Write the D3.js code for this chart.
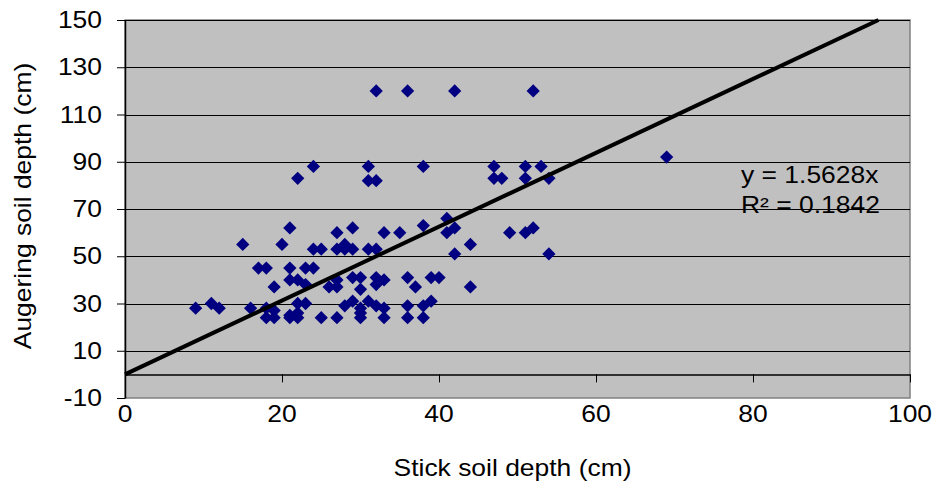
<!DOCTYPE html>
<html><head><meta charset="utf-8">
<script src="https://cdn.jsdelivr.net/npm/d3@7"></script>
<style>body{margin:0;background:#fff;}svg text{font-family:"Liberation Sans",Arial,sans-serif;fill:#000;}</style>
</head><body><svg id="c" width="933" height="483"></svg>
<script>
const stickDepth = [32,36,42,52, 22,24,31,31,32,38,47,47,48,51,51,53,54,69,
 21,27,29,33,35,38,41,41,42,49,51,52,
 15,20,24,25,27,28,28,29,31,32,44,42,54,
 17,18,21,23,24,21,22,23,19,26,27,27,29,30,30,32,32,33,36,37,39,40,44,
 9,11,12,16,18,19,18,19,21,21,22,23,22,22,25,27,28,29,31,32,33,30,30,30,33,36,36,38,39,38];
const augerDepth = [120,120,120,120, 83,88,88,82,82,88,88,83,83,88,83,88,83,92,
 62,60,62,60,60,63,66,60,62,60,60,62,
 55,55,53,53,53,55,53,53,53,53,55,51,51,
 45,45,45,45,45,40,40,38,37,37,40,37,41,41,36,41,38,40,41,37,41,41,37,
 28,30,28,28,28,27,24,24,25,24,30,30,26,24,24,24,29,31,31,29,28,28,26,24,24,29,24,29,31,24];
const xTicks = [0,20,40,60,80,100];
const yTicks = [-10,10,30,50,70,90,110,130,150];
const slope = 1.5628;
const eqLines = ["y = 1.5628x", "R\u00b2 = 0.1842"];
const xTitle = "Stick soil depth (cm)";
const yTitle = "Augering soil depth (cm)";

const svg = d3.select("#c");
const L=125,R=910,T=20,B=398;
const x = d3.scaleLinear().domain([0,100]).range([L,R]);
const y = d3.scaleLinear().domain([-10,150]).range([B,T]);
const FS = 23, SX = 1.15;
function txt(g, tx, ty, s, anchor, rot){
  return g.append("text").attr("transform",`translate(${tx},${ty})${rot?` rotate(${rot})`:""} scale(${SX},1)`)
    .attr("text-anchor",anchor||"start").attr("font-size",FS).text(s);
}

svg.append("rect").attr("x",L).attr("y",T).attr("width",R-L).attr("height",B-T)
  .attr("fill","#c0c0c0").attr("stroke","#808080").attr("stroke-width",1.5);
svg.append("g").selectAll("line").data(yTicks.filter(d=>d>-10)).join("line")
  .attr("x1",L).attr("x2",R).attr("y1",d=>Math.round(y(d))+0.5).attr("y2",d=>Math.round(y(d))+0.5)
  .attr("stroke","#000").attr("stroke-width",1.2);
const ya = svg.append("g").attr("transform",`translate(${L},0)`)
  .call(d3.axisLeft(y).tickValues(yTicks).tickSize(8).tickSizeOuter(0).tickFormat(""));
ya.select(".domain").attr("stroke","#000").attr("stroke-width",1.5);
const yl = svg.append("g");
yTicks.forEach(d=>txt(yl, 102, y(d)+8, String(d), "end"));
const xa = svg.append("g").attr("transform",`translate(0,${y(0)})`)
  .call(d3.axisBottom(x).tickValues(xTicks).tickSize(8).tickSizeOuter(0).tickFormat(""));
xa.select(".domain").attr("stroke","#000").attr("stroke-width",1.5);
const xl = svg.append("g");
xTicks.forEach(d=>txt(xl, x(d), y(-10)+24, String(d), "middle"));
const sym = d3.symbol().type(d3.symbolSquare).size(88);
svg.append("g").selectAll("path").data(stickDepth.map((v,i)=>[v,augerDepth[i]])).join("path")
  .attr("d",sym).attr("fill","#000080")
  .attr("transform",d=>`translate(${x(d[0])},${y(d[1])}) rotate(45)`);
svg.append("line").attr("x1",x(0)).attr("y1",y(0)).attr("x2",x(150/slope)).attr("y2",y(150))
  .attr("stroke","#000").attr("stroke-width",4);
const eg = svg.append("g");
eqLines.forEach((s,i)=>txt(eg, 741, 183+i*30, s, "start"));
txt(svg, (L+R)/2-5, 476, xTitle, "middle");
txt(svg, 31, (T+B)/2-3, yTitle, "middle", -90);
</script></body></html>
